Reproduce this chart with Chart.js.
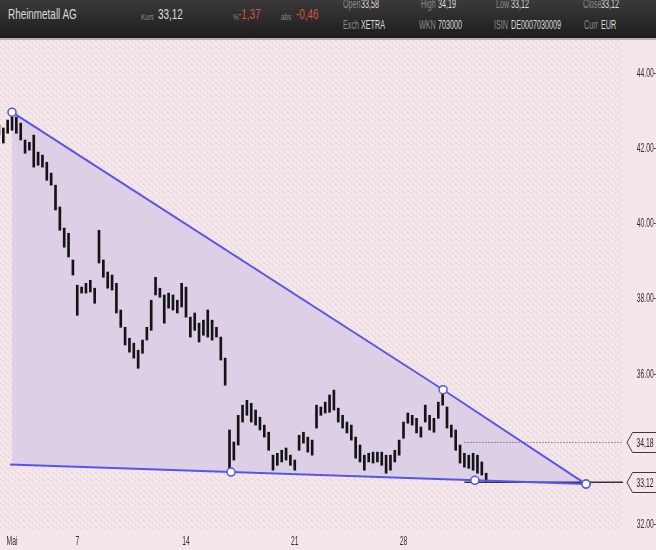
<!DOCTYPE html>
<html>
<head>
<meta charset="utf-8">
<script src="https://cdn.jsdelivr.net/npm/chart.js@4.4.1/dist/chart.umd.min.js"></script>
<style>
  html, body { margin: 0; padding: 0; }
  body { width: 656px; height: 550px; background: #f5e6e9; position: relative; overflow: hidden;
         font-family: 'Liberation Sans', Arial, sans-serif; }
  #hdr { position: absolute; left: 0; top: 0; width: 656px; height: 38px; overflow: hidden;
         background: linear-gradient(#3a3a3a, #1d1d1d); border-bottom: 2px solid #b9b0b3; }
  #hdr span { position: absolute; white-space: nowrap; line-height: 1; transform-origin: 0 50%; transform: scaleX(0.6); }
  #hdr span.big { font-size: 15px; color: #dcdcdc; top: 6px; transform: scaleX(0.66); }
  #hdr span.red { color: #dc503c; }
  #hdr span.sm  { font-size: 9px; color: #8a8a8a; top: 13px; transform: scaleX(0.7); }
  .lab { font-size: 12px; color: #8a8a8a; }
  .val { font-size: 12px; color: #dadada; }
  .r1 { top: -2px; }
  .r2 { top: 19px; }
  #wrap { position: absolute; left: 0; top: 40px; width: 656px; height: 510px; }
</style>
</head>
<body>
<div id="hdr">
  <span class="big" style="left:8px">Rheinmetall AG</span>
  <span class="sm" style="left:141px">Kurs</span>
  <span class="big" style="left:158px">33,12</span>
  <span class="sm" style="left:233px">%</span>
  <span class="big red" style="left:238px">-1,37</span>
  <span class="sm" style="left:281px">abs</span>
  <span class="big red" style="left:296px">-0,46</span>

  <span class="lab r1" style="left:343px">Open</span><span class="val r1" style="left:361px">33,58</span>
  <span class="lab r1" style="left:421px">High</span><span class="val r1" style="left:438px">34,19</span>
  <span class="lab r1" style="left:496px">Low</span><span class="val r1" style="left:511px">33,12</span>
  <span class="lab r1" style="left:583px">Close</span><span class="val r1" style="left:601px">33,12</span>

  <span class="lab r2" style="left:343px">Exch</span><span class="val r2" style="left:361px">XETRA</span>
  <span class="lab r2" style="left:419px">WKN</span><span class="val r2" style="left:438px">703000</span>
  <span class="lab r2" style="left:494px">ISIN</span><span class="val r2" style="left:511px">DE0007030009</span>
  <span class="lab r2" style="left:584px">Curr</span><span class="val r2" style="left:601px">EUR</span>
</div>
<div id="wrap"><canvas id="chart" width="656" height="510"></canvas></div>
<script>
// --- DATA ---
// x axis is counted in intraday bars (5 per trading day), first bar index below
const barStart = -3;
const lows = [
  42.35, 42.14, 42.40, 42.48, 42.40, 42.22, 41.87, 41.95, 41.50, 41.55,
  41.50, 41.15, 41.02, 40.36, 39.82, 39.37, 39.11, 38.63, 37.56, 38.15,
  38.15, 38.18, 37.88, 38.95, 38.57, 38.28, 38.23, 37.62, 37.24, 36.77,
  36.58, 36.42, 36.15, 36.55, 36.90, 37.16, 38.10, 38.04, 37.35, 37.75,
  37.70, 37.62, 37.78, 37.51, 36.98, 37.16, 36.85, 37.03, 36.98, 36.90,
  36.98, 36.37, 35.70, 33.49, 33.71, 34.11, 34.72, 34.90, 34.72, 34.64,
  34.51, 34.32, 33.97, 33.44, 33.57, 33.66, 33.71, 33.57, 33.44, 33.97,
  34.16, 33.92, 33.84, 34.56, 34.90, 34.96, 34.98, 35.04, 34.72, 34.56,
  34.43, 34.24, 33.76, 33.66, 33.44, 33.66, 33.63, 33.66, 33.57, 33.36,
  33.44, 33.66, 33.84, 34.29, 34.69, 34.64, 34.43, 34.32, 34.72, 34.51,
  34.45, 34.82, 35.17, 34.56, 34.32, 33.97, 33.63, 33.52, 33.49, 33.44,
  33.36, 33.31, 33.12
];
const highs = [
  42.62, 42.54, 42.75, 42.96, 42.83, 42.67, 42.22, 42.16, 42.35, 41.90,
  41.82, 41.63, 41.34, 41.02, 40.44, 39.88, 39.74, 39.03, 38.36, 38.31,
  38.41, 38.49, 38.28, 39.82, 39.03, 38.71, 38.63, 38.41, 37.70, 37.24,
  36.95, 36.82, 36.63, 36.90, 37.24, 37.96, 38.57, 38.28, 38.10, 38.15,
  38.10, 37.96, 38.41, 38.31, 37.51, 37.62, 37.35, 37.43, 37.70, 37.43,
  37.24, 36.98, 36.42, 34.51, 34.19, 34.90, 35.17, 35.30, 35.22, 35.04,
  34.85, 34.64, 34.45, 33.84, 33.89, 33.97, 34.03, 33.84, 33.71, 34.37,
  34.45, 34.32, 34.24, 35.17, 35.12, 35.25, 35.44, 35.57, 35.09, 34.90,
  34.72, 34.64, 34.32, 34.11, 33.84, 33.89, 33.92, 33.92, 33.92, 33.84,
  33.84, 33.97, 34.24, 34.72, 34.96, 34.90, 34.82, 34.59, 35.17, 34.90,
  34.82, 35.25, 35.62, 35.12, 34.64, 34.51, 34.11, 33.89, 33.84, 33.89,
  33.84, 33.66, 33.36
];

const xTickPos = [0, 15, 40, 65, 90];
const xTickLabels = ['Mai', '7', '14', '21', '28'];
const yTicks = [32, 36, 38, 40, 42, 44];

// triangle trend lines
const upperX = [0, 99.1, 131.95];
const upperY = [42.96, 35.58, 33.07];
const upperRadius = [4, 4, 4];
const lowerX = [-0.46, 50.34, 106.4, 131.95];
const lowerY = [33.59, 33.39, 33.17, 33.07];
const lowerRadius = [0, 4, 4, 4];
const shadeX = [0, 131.95, 0, 0];
const shadeY = [42.96, 33.07, 33.57, 42.96];

// price markers on the right
const refLevels = [34.18, 33.12];
const refDashed = [true, false];
const refFrom = 104;

const xMin = -2.76, xMax = 140.46;
const yMin = 31.85, yMax = 44.88;

const BLUE = '#5656ee';
const FONT = "'Liberation Sans', Arial, sans-serif";
const SQUEEZE = 0.52;

// --- PLUGINS ---
function makeStipple() {
    const c = document.createElement('canvas');
    c.width = 6; c.height = 6;
    const g = c.getContext('2d');
    g.fillStyle = '#f5e6e9';
    g.fillRect(0, 0, 6, 6);
    g.fillStyle = 'rgba(185, 160, 205, 0.4)';
    [[0, 1], [3, 4], [5, 0], [2, 2]].forEach(p => g.fillRect(p[0], p[1], 1, 1));
    return c;
}

const stipplePlugin = {
    id: 'stipple',
    beforeDatasetsDraw(chart) {
        const { ctx, chartArea } = chart;
        ctx.save();
        ctx.fillStyle = ctx.createPattern(makeStipple(), 'repeat');
        ctx.fillRect(chartArea.left, chartArea.top, chartArea.right - chartArea.left, chartArea.bottom - chartArea.top);
        ctx.restore();
    }
};

// narrow text like the original terminal font
function narrowText(ctx, text, x, y, align) {
    ctx.save();
    ctx.translate(x, y);
    ctx.scale(SQUEEZE, 1);
    ctx.textAlign = align;
    ctx.fillText(text, 0, 0);
    ctx.restore();
}

const axisLabelPlugin = {
    id: 'axisLabels',
    afterDraw(chart) {
        const { ctx, scales } = chart;
        ctx.save();
        ctx.fillStyle = '#2e2e2e';
        ctx.font = '13px ' + FONT;
        ctx.textBaseline = 'middle';
        yTicks.forEach(v => {
            narrowText(ctx, v.toFixed(2) + '-', 656, scales.y.getPixelForValue(v), 'right');
        });
        const ly = chart.chartArea.bottom + 11;
        xTickPos.forEach((p, k) => {
            narrowText(ctx, xTickLabels[k], scales.x.getPixelForValue(p), ly, 'center');
        });
        ctx.restore();
    }
};

const markerPlugin = {
    id: 'markers',
    afterDraw(chart) {
        const { ctx } = chart;
        const y = chart.scales.y;
        ctx.save();
        refLevels.forEach(v => {
            const py = Math.round(y.getPixelForValue(v)) + 0.5;
            ctx.beginPath();
            ctx.moveTo(627, py);
            ctx.lineTo(632.5, py - 10);
            ctx.lineTo(660, py - 10);
            ctx.lineTo(660, py + 10);
            ctx.lineTo(632.5, py + 10);
            ctx.closePath();
            ctx.fillStyle = '#f5e6e9';
            ctx.fill();
            ctx.strokeStyle = '#3a3a3a';
            ctx.lineWidth = 1;
            ctx.stroke();
            ctx.fillStyle = '#222';
            ctx.font = '13px ' + FONT;
            ctx.textBaseline = 'middle';
            narrowText(ctx, v.toFixed(2).replace('.', ','), 645, py + 0.5, 'center');
        });
        ctx.restore();
    }
};

// --- CHART ---
const bars = highs.map((h, k) => ({ x: barStart + k, y: [lows[k], h] }));
const refSets = refLevels.map((v, k) => ({
    type: 'line',
    data: [{ x: refFrom, y: v }, { x: xMax, y: v }],
    borderColor: refDashed[k] ? '#444' : '#333',
    borderWidth: refDashed[k] ? 1 : 1.5,
    borderDash: refDashed[k] ? [1, 2] : [],
    pointRadius: 0,
    fill: false,
    order: 3
}));

new Chart(document.getElementById('chart').getContext('2d'), {
    type: 'bar',
    data: {
        datasets: [
            {
                type: 'line',
                data: shadeX.map((x, k) => ({ x: x, y: shadeY[k] })),
                borderWidth: 0,
                borderColor: 'rgba(0,0,0,0)',
                backgroundColor: '#ddd0e6',
                fill: 'shape',
                pointRadius: 0,
                tension: 0,
                order: 10
            },
            {
                type: 'bar',
                data: bars,
                backgroundColor: '#141414',
                barThickness: 2,
                order: 5
            },
            ...refSets,
            {
                type: 'line',
                data: upperX.map((x, k) => ({ x: x, y: upperY[k] })),
                borderColor: BLUE,
                borderWidth: 2,
                pointRadius: upperRadius,
                pointBackgroundColor: '#ffffff',
                pointBorderColor: BLUE,
                pointBorderWidth: 1.5,
                fill: false,
                order: 1
            },
            {
                type: 'line',
                data: lowerX.map((x, k) => ({ x: x, y: lowerY[k] })),
                borderColor: BLUE,
                borderWidth: 2,
                pointRadius: lowerRadius,
                pointBackgroundColor: '#ffffff',
                pointBorderColor: BLUE,
                pointBorderWidth: 1.5,
                fill: false,
                order: 1
            }
        ]
    },
    options: {
        responsive: false,
        animation: false,
        layout: { padding: 0, autoPadding: false },
        plugins: { legend: { display: false }, tooltip: { enabled: false } },
        scales: {
            x: {
                type: 'linear',
                offset: false,
                min: xMin,
                max: xMax,
                grid: { display: false, offset: false },
                border: { display: false },
                ticks: { display: false },
                afterFit: (s) => { s.height = 20; s.paddingLeft = 0; s.paddingRight = 0; s.paddingTop = 0; s.paddingBottom = 0; }
            },
            y: {
                position: 'right',
                min: yMin,
                max: yMax,
                grid: { display: false },
                border: { display: false },
                ticks: { display: false },
                afterFit: (s) => { s.width = 33; s.paddingTop = 0; s.paddingBottom = 0; s.paddingLeft = 0; s.paddingRight = 0; }
            }
        }
    },
    plugins: [stipplePlugin, axisLabelPlugin, markerPlugin]
});
</script>
</body>
</html>
